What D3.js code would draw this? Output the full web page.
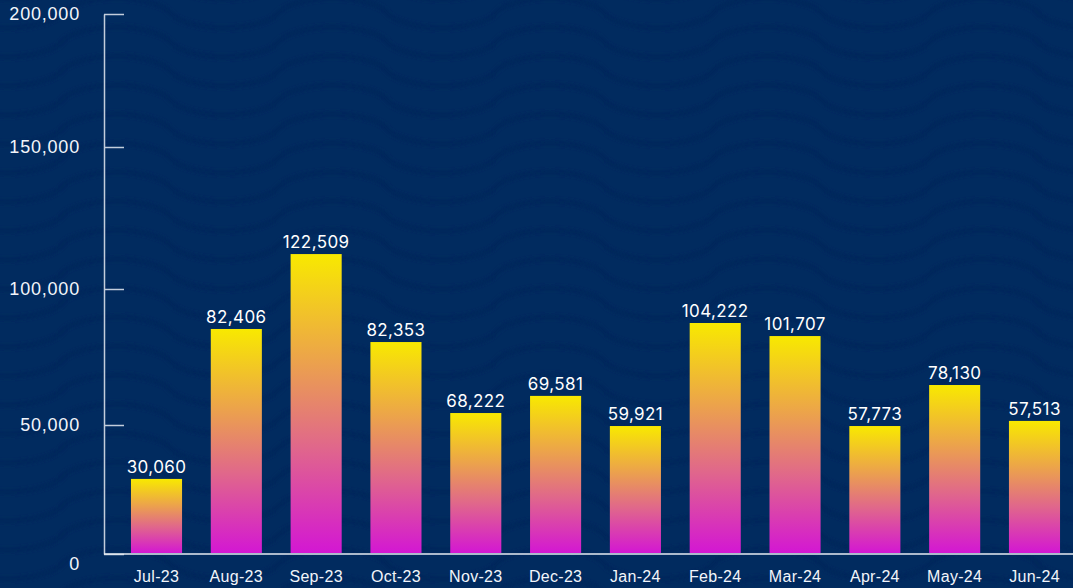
<!DOCTYPE html>
<meta charset="utf-8">
<style>
body { margin: 0; background: #012b5f; }
svg { display: block; font-family: Inter, "Open Sans", sans-serif; }
.yaxis text { fill: #f2f5fa; font-size: 18px; letter-spacing: 0.8px; }
.yaxis line, .yaxis path { stroke: #c3cddc; stroke-width: 1.5px; }
.xaxis text { fill: #f2f5fa; font-size: 16px; letter-spacing: 0.3px; }
.value { fill: #ffffff; font-size: 17px; letter-spacing: 0.4px; }
</style>
<body>
<script src="https://d3js.org/d3.v7.min.js"></script>
<script>

// months on the x axis
var months = ["Jul-23", "Aug-23", "Sep-23", "Oct-23", "Nov-23", "Dec-23",
              "Jan-24", "Feb-24", "Mar-24", "Apr-24", "May-24", "Jun-24"];
// numbers printed above each bar
var printed = [30060, 82406, 122509, 82353, 68222, 69581,
               59921, 104222, 101707, 57773, 78130, 57513];
// bar heights as read against the y axis
var barValues = [29100, 85300, 112300, 80500, 54400, 60700,
                 49600, 87500, 82700, 49600, 64700, 51500];
// y axis ticks
var yTicks = [0, 50000, 100000, 150000, 200000];

var W = 1073, H = 588;
var axisX = 104;

var svg = d3.select("body").append("svg")
    .attr("width", W)
    .attr("height", H);

// background with waves
svg.append("rect").attr("width", W).attr("height", H).attr("fill", "#012b5f");

var defs = svg.append("defs");
defs.append("filter").attr("id", "soft")
  .append("feGaussianBlur").attr("stdDeviation", 1.5);

var wave = d3.line().curve(d3.curveBasis);
var waves = svg.append("g").attr("filter", "url(#soft)");
for (var k = -2; k < 22; k++) {
  var pts = [];
  for (var px = -40; px <= W + 40; px += 5) {
    var c = Math.cos(2 * Math.PI * (px - 333) / 217);
    var s = (c < 0 ? -1 : 1) * Math.pow(Math.abs(c), 0.6);
    pts.push([px, k * 29 + 42 - 15 * s]);
  }
  waves.append("path")
      .attr("d", wave(pts))
      .attr("fill", "none")
      .attr("stroke", "#00275c")
      .attr("stroke-width", 5.5);
}

// gradient for the bars
var grad = defs.append("linearGradient")
    .attr("id", "barGrad")
    .attr("x1", 0).attr("y1", 0).attr("x2", 0).attr("y2", 1);
grad.append("stop").attr("offset", "0%").attr("stop-color", "#f8e900");
grad.append("stop").attr("offset", "35%").attr("stop-color", "#eca44a");
grad.append("stop").attr("offset", "65%").attr("stop-color", "#e0668c");
grad.append("stop").attr("offset", "100%").attr("stop-color", "#d317d3");

// scales
var x = d3.scaleBand()
    .domain(months)
    .range([116.6, 1074.4])
    .paddingInner(0.36)
    .paddingOuter(0.18);

var y = d3.scaleLinear()
    .domain(yTicks)
    .range([554, 425, 289, 147, 14]);

// bars
svg.append("g").selectAll("rect")
    .data(months)
  .enter().append("rect")
    .attr("x", function(d) { return x(d); })
    .attr("width", x.bandwidth())
    .attr("y", function(d, i) { return y(barValues[i]); })
    .attr("height", function(d, i) { return y(0) - 1 - y(barValues[i]); })
    .attr("fill", "url(#barGrad)");

// value labels
var fmt = d3.format(",");
svg.append("g").selectAll("text")
    .data(months)
  .enter().append("text")
    .attr("class", "value")
    .attr("x", function(d) { return x(d) + x.bandwidth() / 2; })
    .attr("y", function(d, i) { return y(barValues[i]) - 6; })
    .attr("text-anchor", "middle")
    .text(function(d, i) { return fmt(printed[i]); });

// y axis
var ya = svg.append("g")
    .attr("class", "yaxis")
    .attr("transform", "translate(" + axisX + ",0)")
    .call(d3.axisLeft(y).tickValues(yTicks).tickFormat(fmt)
          .tickSizeInner(-20).tickSizeOuter(0).tickPadding(24));
// the zero label sits a little below the baseline
ya.selectAll(".tick text").filter(function(d) { return d === 0; })
    .attr("dy", "0.85em");

// baseline
svg.append("line")
    .attr("x1", axisX).attr("x2", W)
    .attr("y1", y(0)).attr("y2", y(0))
    .attr("stroke", "#e6ebf2")
    .attr("stroke-width", 1.5);

// x axis labels
var xa = svg.append("g")
    .attr("class", "xaxis")
    .attr("transform", "translate(0," + y(0) + ")")
    .call(d3.axisBottom(x).tickSize(0).tickPadding(17));
xa.select(".domain").remove();

</script>
</body>
